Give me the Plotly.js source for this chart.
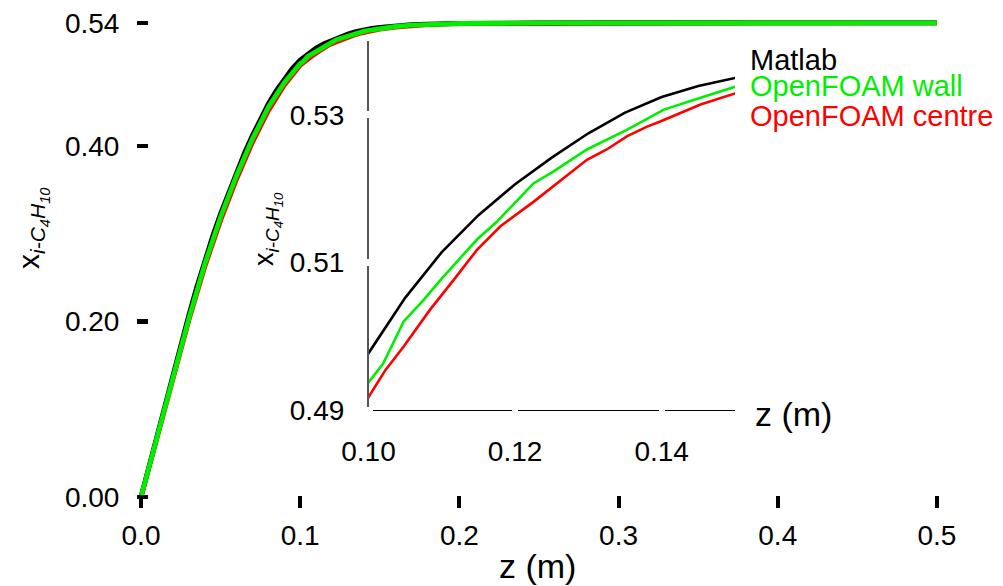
<!DOCTYPE html>
<html><head><meta charset="utf-8">
<script src="https://cdn.plot.ly/plotly-3.0.1.min.js"></script>
<style>html,body{margin:0;padding:0;background:#fff}</style>
</head><body><div id="chart" style="width:1003px;height:586px"></div>
<script>
// ---- data ----
const matlabZ = [0,0.005,0.01,0.015,0.02,0.025,0.03,0.035,0.04,0.045,0.05,0.055,0.06,0.065,0.07,0.075,0.08,0.085,0.09,0.095,0.1,0.105,0.11,0.115,0.12,0.125,0.13,0.135,0.14,0.145,0.15,0.16,0.17,0.18,0.2,0.25,0.3,0.4,0.5];
const matlabX = [0,0.035,0.070,0.105,0.140,0.174,0.207,0.239,0.269,0.297,0.323,0.347,0.370,0.392,0.412,0.431,0.448,0.463,0.476,0.488,0.4977,0.5052,0.5114,0.5164,0.5206,0.5242,0.5275,0.5303,0.5324,0.5339,0.5350,0.5368,0.5380,0.5388,0.5396,0.5400,0.5401,0.5402,0.5402];

const wallZ = [0,0.01,0.02,0.03,0.04,0.05,0.06,0.07,0.08,0.09,0.0999,0.1020,0.1048,0.1075,0.1098,0.1148,0.1175,0.1225,0.1252,0.1298,0.1353,0.1403,0.1453,0.1500,0.16,0.17,0.18,0.2,0.25,0.3,0.4,0.5];
const wallX = [0,0.068,0.137,0.203,0.265,0.319,0.366,0.408,0.444,0.472,0.4936,0.4963,0.5020,0.5049,0.5076,0.5131,0.5155,0.5207,0.5223,0.5253,0.5280,0.5307,0.5323,0.5338,0.5360,0.5375,0.5385,0.5394,0.5399,0.5400,0.5401,0.5401];

const centreZ = [0,0.01,0.02,0.03,0.04,0.05,0.06,0.07,0.08,0.09,0.0999,0.1023,0.1048,0.1084,0.1116,0.1148,0.1180,0.1225,0.1298,0.1325,0.1353,0.1380,0.1398,0.1453,0.1500,0.16,0.17,0.18,0.2,0.25,0.3,0.4,0.5];
const centreX = [0,0.068,0.136,0.201,0.262,0.315,0.362,0.404,0.440,0.469,0.4916,0.4954,0.4986,0.5036,0.5076,0.5117,0.5149,0.5182,0.5239,0.5253,0.5271,0.5284,0.5291,0.5314,0.5329,0.5352,0.5370,0.5381,0.5392,0.5398,0.5400,0.5401,0.5401];

const seriesNames = ['Matlab','OpenFOAM wall','OpenFOAM centre'];

const mainXTicks = [0,0.1,0.2,0.3,0.4,0.5];
const mainXTickText = ['0.0','0.1','0.2','0.3','0.4','0.5'];
const mainYTicks = [0,0.2,0.4,0.54];
const mainYTickText = ['0.00','0.20','0.40','0.54'];
const insetXTicks = [0.10,0.12,0.14];
const insetXTickText = ['0.10','0.12','0.14'];
const insetYTicks = [0.49,0.51,0.53];
const insetYTickText = ['0.49','0.51','0.53'];

// ---- styling ----
const FONT = 'Liberation Sans, Arial, sans-serif';
const colors = {'Matlab':'#000000','OpenFOAM wall':'#00ee00','OpenFOAM centre':'#ff0000'};
const series = [
  {name:'OpenFOAM centre', z:centreZ, x:centreX},
  {name:'Matlab', z:matlabZ, x:matlabX},
  {name:'OpenFOAM wall', z:wallZ, x:wallX}
];

const traces = [];
series.forEach(s => {
  traces.push({x:s.z, y:s.x, type:'scatter', mode:'lines', name:s.name, showlegend:false,
    xaxis:'x', yaxis:'y', line:{color:colors[s.name], width:4.8}, hoverinfo:'skip'});
});
series.forEach(s => {
  traces.push({x:s.z, y:s.x, type:'scatter', mode:'lines', name:s.name+' (inset)', showlegend:false,
    xaxis:'x2', yaxis:'y2', line:{color:colors[s.name], width:2.6}, hoverinfo:'skip'});
});
// empty trace that only carries the white tick "gaps" axes of the inset
traces.push({x:[], y:[], type:'scatter', mode:'lines', showlegend:false, xaxis:'x3', yaxis:'y3', hoverinfo:'skip'});

const W = 1003, H = 586;
const mL = 125, mR = 53, mT = 10, mB = 71;
const pw = W - mL - mR, ph = H - mT - mB;
const px2fx = p => (p - mL) / pw;
const py2fy = p => (H - mB - p) / ph;

const tickFont = {family:FONT, size:28, color:'#000'};
const insetXDomain = [px2fx(368.5), px2fx(735)];
const insetYDomain = [py2fy(410), py2fy(41)];
const insetXRange = [0.10, 0.15];
const insetYRange = [0.49, 0.54];

const layout = {
  width:W, height:H,
  margin:{l:mL, r:mR, t:mT, b:mB, pad:0},
  paper_bgcolor:'#fff', plot_bgcolor:'rgba(0,0,0,0)',
  font:{family:FONT, color:'#000'},
  showlegend:false,
  xaxis:{range:[-0.01005, 0.5082], domain:[0,1], anchor:'free', position:py2fy(495),
    showgrid:false, zeroline:false, showline:false,
    tickmode:'array', tickvals:mainXTicks, ticktext:mainXTickText,
    ticks:'outside', ticklen:12, tickwidth:4, tickcolor:'#000',
    ticklabelstandoff:3, tickfont:tickFont},
  yaxis:{range:[-0.0205, 0.5548], domain:[0,1], anchor:'free', position:px2fx(148),
    showgrid:false, zeroline:false, showline:false,
    tickmode:'array', tickvals:mainYTicks, ticktext:mainYTickText,
    ticks:'outside', ticklen:11, tickwidth:4.5, tickcolor:'#000',
    ticklabelstandoff:12, tickfont:tickFont},
  xaxis2:{range:insetXRange, domain:insetXDomain, anchor:'y2',
    showgrid:false, zeroline:false, showline:true, linecolor:'#000', linewidth:1.2,
    tickmode:'array', tickvals:insetXTicks, ticktext:insetXTickText, ticks:'',
    ticklabelstandoff:16, tickfont:tickFont},
  yaxis2:{range:insetYRange, domain:insetYDomain, anchor:'x2',
    showgrid:false, zeroline:false, showline:true, linecolor:'#555', linewidth:1.6,
    tickmode:'array', tickvals:insetYTicks, ticktext:insetYTickText, ticks:'',
    ticklabelstandoff:17, tickfont:tickFont},
  // white ticks that cut small gaps into the inset axis lines
  xaxis3:{range:insetXRange, domain:insetXDomain, anchor:'free', position:py2fy(406),
    showgrid:false, zeroline:false, showline:false, showticklabels:false,
    tickmode:'array', tickvals:insetXTicks,
    ticks:'outside', ticklen:8, tickwidth:6, tickcolor:'#fff'},
  yaxis3:{range:insetYRange, domain:insetYDomain, anchor:'free', position:px2fx(372.5),
    showgrid:false, zeroline:false, showline:false, showticklabels:false,
    tickmode:'array', tickvals:insetYTicks,
    ticks:'outside', ticklen:8, tickwidth:7, tickcolor:'#fff'},
  annotations:[
    {text:'z (m)', xref:'paper', yref:'paper', x:px2fx(537), y:py2fy(566), xanchor:'center', yanchor:'middle',
     showarrow:false, font:{family:FONT, size:34, color:'#000'}},
    {text:'z (m)', xref:'paper', yref:'paper', x:px2fx(753), y:py2fy(414), xanchor:'left', yanchor:'middle',
     showarrow:false, font:{family:FONT, size:34, color:'#000'}},
    {text:'x<sub><i>i-C<sub>4</sub>H<sub>10</sub></i></sub>', xref:'paper', yref:'paper', x:px2fx(32), y:py2fy(228),
     xanchor:'center', yanchor:'middle', textangle:-90, showarrow:false, font:{family:FONT, size:30, color:'#000'}},
    {text:'x<sub><i>i-C<sub>4</sub>H<sub>10</sub></i></sub>', xref:'paper', yref:'paper', x:px2fx(267), y:py2fy(229),
     xanchor:'center', yanchor:'middle', textangle:-90, showarrow:false, font:{family:FONT, size:27, color:'#000'}},
    {text:seriesNames[0], xref:'paper', yref:'paper', x:px2fx(748), y:py2fy(60), xanchor:'left', yanchor:'middle',
     showarrow:false, font:{family:FONT, size:29, color:colors[seriesNames[0]]}},
    {text:seriesNames[1], xref:'paper', yref:'paper', x:px2fx(748), y:py2fy(86), xanchor:'left', yanchor:'middle',
     showarrow:false, font:{family:FONT, size:29, color:colors[seriesNames[1]]}},
    {text:seriesNames[2], xref:'paper', yref:'paper', x:px2fx(748), y:py2fy(116), xanchor:'left', yanchor:'middle',
     showarrow:false, font:{family:FONT, size:29, color:colors[seriesNames[2]]}}
  ]
};

Plotly.newPlot('chart', traces, layout, {staticPlot:true, displayModeBar:false});
</script>
</body></html>
